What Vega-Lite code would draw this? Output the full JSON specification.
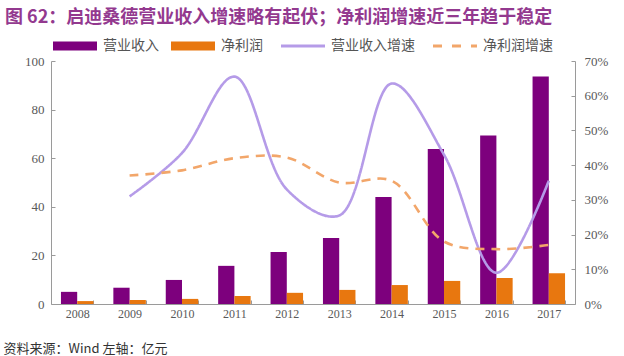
{
  "$schema": "https://vega.github.io/schema/vega-lite/v6.json",
  "width": 524,
  "height": 243,
  "autosize": {"type": "none"},
  "padding": {"left": 51, "top": 61, "right": 49, "bottom": 52},
  "background": "white",
  "title": {
    "text": "图 62：启迪桑德营业收入增速略有起伏；净利润增速近三年趋于稳定",
    "anchor": "start",
    "frame": "group",
    "font": "Noto Sans CJK SC",
    "fontSize": 18,
    "fontWeight": "bold",
    "color": "#93398F",
    "dx": -46,
    "offset": 12
  },
  "datasets": {
    "bars": [
      {"year": "2008", "series": "营业收入", "value": 5.0},
      {"year": "2008", "series": "净利润", "value": 1.2},
      {"year": "2009", "series": "营业收入", "value": 6.7},
      {"year": "2009", "series": "净利润", "value": 1.6},
      {"year": "2010", "series": "营业收入", "value": 9.9},
      {"year": "2010", "series": "净利润", "value": 2.1},
      {"year": "2011", "series": "营业收入", "value": 15.7},
      {"year": "2011", "series": "净利润", "value": 3.3},
      {"year": "2012", "series": "营业收入", "value": 21.4},
      {"year": "2012", "series": "净利润", "value": 4.6},
      {"year": "2013", "series": "营业收入", "value": 27.2},
      {"year": "2013", "series": "净利润", "value": 5.8},
      {"year": "2014", "series": "营业收入", "value": 44.0},
      {"year": "2014", "series": "净利润", "value": 7.8},
      {"year": "2015", "series": "营业收入", "value": 63.8},
      {"year": "2015", "series": "净利润", "value": 9.5},
      {"year": "2016", "series": "营业收入", "value": 69.3},
      {"year": "2016", "series": "净利润", "value": 10.7},
      {"year": "2017", "series": "营业收入", "value": 93.6},
      {"year": "2017", "series": "净利润", "value": 12.7}
    ],
    "growth": [
      {"year": "2009", "series": "营业收入增速", "rate": 0.31},
      {"year": "2010", "series": "营业收入增速", "rate": 0.435},
      {"year": "2011", "series": "营业收入增速", "rate": 0.655},
      {"year": "2012", "series": "营业收入增速", "rate": 0.33},
      {"year": "2013", "series": "营业收入增速", "rate": 0.255},
      {"year": "2014", "series": "营业收入增速", "rate": 0.635},
      {"year": "2015", "series": "营业收入增速", "rate": 0.43},
      {"year": "2016", "series": "营业收入增速", "rate": 0.09},
      {"year": "2017", "series": "营业收入增速", "rate": 0.355},
      {"year": "2009", "series": "净利润增速", "rate": 0.37},
      {"year": "2010", "series": "净利润增速", "rate": 0.385},
      {"year": "2011", "series": "净利润增速", "rate": 0.42},
      {"year": "2012", "series": "净利润增速", "rate": 0.422},
      {"year": "2013", "series": "净利润增速", "rate": 0.35},
      {"year": "2014", "series": "净利润增速", "rate": 0.355},
      {"year": "2015", "series": "净利润增速", "rate": 0.18},
      {"year": "2016", "series": "净利润增速", "rate": 0.158},
      {"year": "2017", "series": "净利润增速", "rate": 0.17}
    ]
  },
  "encoding": {
    "x": {
      "field": "year",
      "type": "ordinal",
      "scale": {"domain": ["2008","2009","2010","2011","2012","2013","2014","2015","2016","2017"], "paddingInner": 0.38, "paddingOuter": 0.19},
      "axis": {
        "labelAngle": 0,
        "labelFont": "Liberation Serif",
        "labelFontSize": 12,
        "labelColor": "#595959",
        "labelPadding": 8,
        "domainColor": "#9a9a9a",
        "tickColor": "#9a9a9a",
        "tickBand": "extent",
        "tickSize": -4,
        "title": "资料来源：Wind 左轴：亿元",
        "titleFont": "Noto Sans CJK SC",
        "titleFontSize": 13,
        "titleFontWeight": "normal",
        "titleColor": "#333333",
        "titleAlign": "left",
        "titleAnchor": "start",
        "titleBaseline": "middle",
        "titleX": -48,
        "titleY": 44
      }
    }
  },
  "layer": [
    {
      "data": {"name": "bars"},
      "mark": {"type": "bar"},
      "encoding": {
        "xOffset": {"field": "series", "type": "nominal", "scale": {"domain": ["营业收入", "净利润"], "paddingInner": 0, "paddingOuter": 0}},
        "y": {
          "field": "value",
          "type": "quantitative",
          "scale": {"domain": [0, 100]},
          "axis": {
            "values": [0, 20, 40, 60, 80, 100],
            "title": null,
            "grid": false,
            "labelFont": "Liberation Serif",
            "labelFontSize": 13,
            "labelColor": "#595959",
            "labelPadding": 11,
            "tickSize": -4,
            "domainColor": "#9a9a9a",
            "tickColor": "#9a9a9a"
          }
        },
        "color": {
          "field": "series",
          "type": "nominal",
          "scale": {"domain": ["营业收入", "净利润", "营业收入增速", "净利润增速"], "range": ["#7D007D", "#E8770F", "#B59BE8", "#F2A66A"]},
          "legend": {
            "title": null,
            "orient": "none",
            "direction": "horizontal",
            "legendX": 17,
            "legendY": -22,
            "labelFont": "Noto Sans CJK SC",
            "labelFontSize": 14,
            "labelColor": "#555555",
            "labelOffset": 21,
            "columnPadding": 12,
            "symbolSize": 1936,
            "encode": {
              "symbols": {
                "update": {
                  "shape": {"signal": "(datum.value === '营业收入' || datum.value === '净利润') ? 'M-1,-0.2H1V0.2H-1Z' : 'M-1,0H1'"},
                  "fill": {"signal": "datum.value === '营业收入' ? '#7D007D' : (datum.value === '净利润' ? '#E8770F' : 'transparent')"},
                  "stroke": {"signal": "datum.value === '营业收入增速' ? '#B59BE8' : (datum.value === '净利润增速' ? '#F2A66A' : 'transparent')"},
                  "strokeWidth": {"signal": "(datum.value === '营业收入' || datum.value === '净利润') ? 0 : 3"},
                  "strokeDash": {"signal": "datum.value === '净利润增速' ? [9, 10] : [1, 0]"},
                  "opacity": {"value": 1}
                }
              }
            }
          }
        }
      }
    },
    {
      "data": {"name": "growth"},
      "mark": {"type": "line", "interpolate": "catmull-rom", "strokeWidth": 2.6},
      "encoding": {
        "y": {
          "field": "rate",
          "type": "quantitative",
          "scale": {"domain": [0, 0.7]},
          "axis": {
            "orient": "right",
            "values": [0, 0.1, 0.2, 0.3, 0.4, 0.5, 0.6, 0.7],
            "format": ".0%",
            "title": null,
            "grid": false,
            "labelFont": "Liberation Serif",
            "labelFontSize": 13,
            "labelColor": "#595959",
            "labelPadding": 13,
            "tickSize": -4,
            "domainColor": "#9a9a9a",
            "tickColor": "#9a9a9a"
          }
        },
        "color": {"field": "series", "type": "nominal"},
        "strokeDash": {
          "field": "series",
          "type": "nominal",
          "scale": {"domain": ["营业收入增速", "净利润增速"], "range": [[1, 0], [9, 7]]},
          "legend": null
        },
        "strokeWidth": {
          "field": "series",
          "type": "nominal",
          "scale": {"domain": ["营业收入增速", "净利润增速"], "range": [2.6, 3.4]},
          "legend": null
        }
      }
    }
  ],
  "resolve": {"scale": {"y": "independent"}, "axis": {"y": "independent"}},
  "config": {"view": {"stroke": null}}
}
